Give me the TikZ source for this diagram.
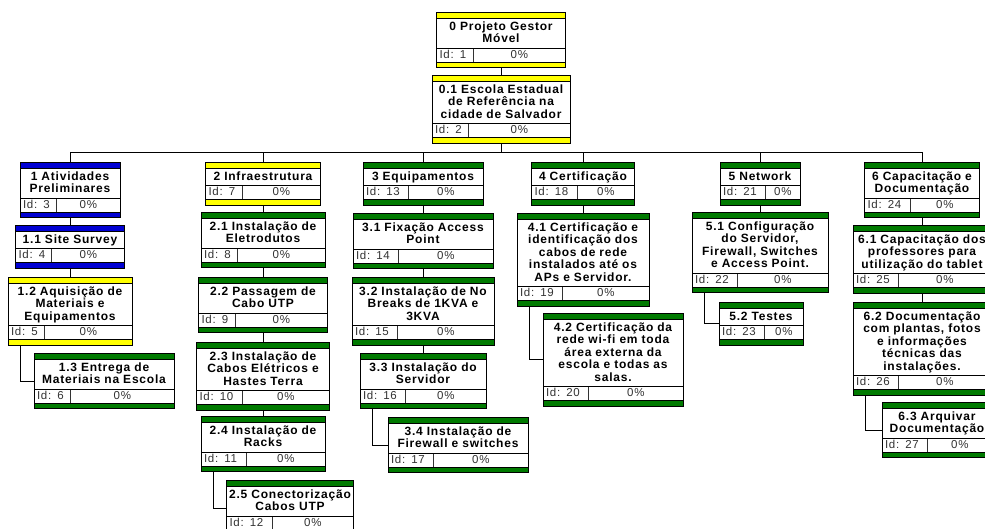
\documentclass[tikz,border=0pt]{standalone}
\usepackage{fontspec}
\usetikzlibrary{shapes.multipart}

\newfontfamily\wbsfont[LetterSpace=6.5]{Liberation Sans}
\definecolor{wbsgreen}{RGB}{0,122,0}
\definecolor{wbsyellow}{RGB}{255,255,0}
\definecolor{wbsblue}{RGB}{0,0,210}

% struts for the title area and the coloured bands
\newcommand{\tstop}{\rule{0pt}{12pt}}
\newcommand{\tsbot}{\rule[-5pt]{0pt}{5pt}}
\newcommand{\bandstrut}{\rule{0pt}{5pt}}
% bottom row: Id cell | percent cell
\newcommand{\idrow}[1]{%
  \ifnum#1<10 \def\idw{36pt}\else\def\idw{45pt}\fi
  \makebox[\linewidth][l]{\mdseries\fontsize{11.5pt}{12.5pt}\selectfont\color{black!80}%
    \makebox[\idw][l]{\hspace{3pt}Id: #1}%
    \vrule height 9.5pt depth 3.5pt width 0.7pt\hfill 0\%\hfill}}
\newcommand{\wbstext}[2]{\bandstrut\nodepart{two}\tstop #1\tsbot\nodepart{three}\idrow{#2}\nodepart{four}\bandstrut}

\begin{document}
\begin{tikzpicture}[
    x=1pt, y=-1pt,
    wbs/.style={rectangle split, rectangle split parts=4, draw=black, line width=0.7pt,
        rectangle split part fill={#1,white,white,#1}, inner xsep=0pt, inner ysep=0pt,
        align=center, anchor=north,
        font=\wbsfont\bfseries\fontsize{12pt}{12.5pt}\selectfont},
    link/.style={draw=black, line width=0.8pt},
]
\useasboundingbox (0,0) rectangle (985,529);
\clip (0,0) rectangle (985,529);

% Top
\node[wbs=wbsyellow, text width=129pt] (b0) at (501,12) {\wbstext{0 Projeto Gestor\\Móvel}{1}};
\node[wbs=wbsyellow, text width=138pt] (b01) at (501,75) {\wbstext{0.1 Escola Estadual\\de Referência na\\cidade de Salvador}{2}};
\coordinate (hub) at (501,152);

% Column 1
\node[wbs=wbsblue, text width=100pt] (b1) at (70,162) {\wbstext{1 Atividades\\Preliminares}{3}};
\node[wbs=wbsblue, text width=109pt] (b11) at (70,225) {\wbstext{1.1 Site Survey}{4}};
\node[wbs=wbsyellow, text width=124pt] (b12) at (70,277) {\wbstext{1.2 Aquisição de\\Materiais e\\Equipamentos}{5}};
\node[wbs=wbsgreen, text width=140pt] (b13) at (104,353) {\wbstext{1.3 Entrega de\\Materiais na Escola}{6}};

% Column 2
\node[wbs=wbsyellow, text width=115pt] (b2) at (263,162) {\wbstext{2 Infraestrutura}{7}};
\node[wbs=wbsgreen, text width=124pt] (b21) at (263,212) {\wbstext{2.1 Instalação de\\Eletrodutos}{8}};
\node[wbs=wbsgreen, text width=129pt] (b22) at (263,277) {\wbstext{2.2 Passagem de\\Cabo UTP}{9}};
\node[wbs=wbsgreen, text width=133pt] (b23) at (263,342) {\wbstext{2.3 Instalação de\\Cabos Elétricos e\\Hastes Terra}{10}};
\node[wbs=wbsgreen, text width=124pt] (b24) at (263,416) {\wbstext{2.4 Instalação de\\Racks}{11}};
\node[wbs=wbsgreen, text width=127pt] (b25) at (290,480) {\wbstext{2.5 Conectorização\\Cabos UTP}{12}};

% Column 3
\node[wbs=wbsgreen, text width=120pt] (b3) at (423,162) {\wbstext{3 Equipamentos}{13}};
\node[wbs=wbsgreen, text width=140pt] (b31) at (423,213) {\wbstext{3.1 Fixação Access\\Point}{14}};
\node[wbs=wbsgreen, text width=142pt] (b32) at (423,277) {\wbstext{3.2 Instalação de No\\Breaks de 1KVA e\\3KVA}{15}};
\node[wbs=wbsgreen, text width=126pt] (b33) at (423,353) {\wbstext{3.3 Instalação do\\Servidor}{16}};
\node[wbs=wbsgreen, text width=140pt] (b34) at (458,417) {\wbstext{3.4 Instalação de\\Firewall e switches}{17}};

% Column 4
\node[wbs=wbsgreen, text width=103pt] (b4) at (583,162) {\wbstext{4 Certificação}{18}};
\node[wbs=wbsgreen, text width=132pt] (b41) at (583,213) {\wbstext{4.1 Certificação e\\identificação dos\\cabos de rede\\instalados até os\\APs e Servidor.}{19}};
\node[wbs=wbsgreen, text width=140pt] (b42) at (613,313) {\wbstext{4.2 Certificação da\\rede wi-fi em toda\\área externa da\\escola e todas as\\salas.}{20}};

% Column 5
\node[wbs=wbsgreen, text width=80pt] (b5) at (760,162) {\wbstext{5 Network}{21}};
\node[wbs=wbsgreen, text width=136pt] (b51) at (760,212) {\wbstext{5.1 Configuração\\do Servidor,\\Firewall, Switches\\e Access Point.}{22}};
\node[wbs=wbsgreen, text width=84pt] (b52) at (761,302) {\wbstext{5.2 Testes}{23}};

% Column 6
\node[wbs=wbsgreen, text width=115pt] (b6) at (922,162) {\wbstext{6 Capacitação e\\Documentação}{24}};
\node[wbs=wbsgreen, text width=138pt] (b61) at (922,225) {\wbstext{6.1 Capacitação dos\\professores para\\utilização do tablet}{25}};
\node[wbs=wbsgreen, text width=138pt] (b62) at (922,302) {\wbstext{6.2 Documentação\\com plantas, fotos\\e informações\\técnicas das\\instalações.}{26}};
\node[wbs=wbsgreen, text width=110pt] (b63) at (937,402) {\wbstext{6.3 Arquivar\\Documentação}{27}};

% Connectors
\draw[link] (b01.south) -- (hub);
\foreach \n in {b1,b2,b3,b4,b5,b6}
    \draw[link] (\n.north) |- (hub);

\foreach \a/\b in {b0/b01, b1/b11, b11/b12, b2/b21, b21/b22, b22/b23, b23/b24,
                   b3/b31, b31/b32, b32/b33, b4/b41, b5/b51, b6/b61, b61/b62}
    \draw[link] (\a.south) -- (\b.north);

\foreach \a/\b in {b12/b13, b24/b25, b33/b34, b41/b42, b51/b52, b62/b63}
    \draw[link] ([xshift=13pt]\a.south west) |- (\b.west);

\end{tikzpicture}
\end{document}
